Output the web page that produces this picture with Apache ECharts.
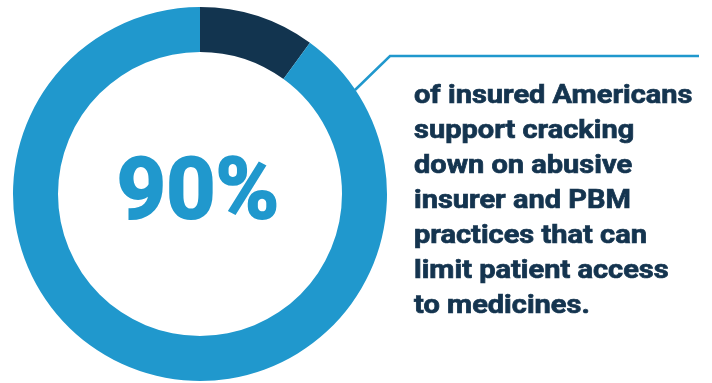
<!DOCTYPE html>
<html><head><meta charset="utf-8">
<script src="https://cdn.jsdelivr.net/npm/echarts@6/dist/echarts.min.js"></script>
<style>html,body{margin:0;padding:0;background:#fff}#c{width:712px;height:383px}</style>
</head><body><div id="c"></div>
<script>
const categories = ['Oppose / not sure', 'Support'];
const values = [10, 90];
const headline = '90%';
const textLines = ['of insured Americans','support cracking','down on abusive','insurer and PBM','practices that can','limit patient access','to medicines.'];

const chart = echarts.init(document.getElementById('c'), null, {renderer:'canvas'});
chart.setOption({
  animation:false,
  series:[{
    type:'pie',
    center:[200,194],
    radius:[142,187],
    startAngle:90,
    clockwise:true,
    silent:true,
    label:{show:false},
    labelLine:{show:false},
    itemStyle:{borderWidth:0},
    data: categories.map((c,i)=>({name:c,value:values[i],itemStyle:{color:i===0?'#12344f':'#2098cd'}}))
  }],
  graphic:[
    {type:'text', x:198, y:196, style:{text:headline, font:'bold 86px Roboto', fill:'#2098cd', stroke:'#2098cd', lineWidth:2, textAlign:'center', textVerticalAlign:'middle'}},
    {type:'polyline', shape:{points:[[355,90],[390,56],[699,56]]}, style:{stroke:'#2098cd', lineWidth:2.5, fill:null}},
    {type:'text', x:414, y:79, scaleX:1.16, style:{text:textLines.join('\n'), font:'bold 25px Roboto', lineHeight:35, fill:'#14344f', stroke:'#14344f', lineWidth:0.7, textAlign:'left', textVerticalAlign:'top'}}
  ]
});
</script></body></html>
